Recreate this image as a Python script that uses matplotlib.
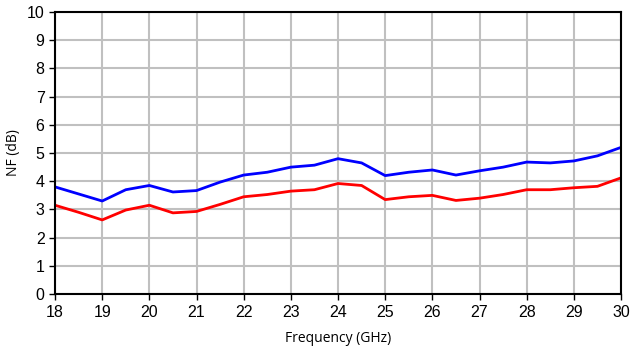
import matplotlib
matplotlib.use("Agg")
import matplotlib.pyplot as plt
import numpy as np

# Noise figure vs frequency, two traces
freq = np.arange(18, 30.01, 0.5)
nfBlue = [3.80, 3.55, 3.30, 3.70, 3.85, 3.62, 3.67, 3.97, 4.22, 4.32, 4.50, 4.57, 4.80,
          4.65, 4.20, 4.32, 4.40, 4.22, 4.37, 4.50, 4.68, 4.65, 4.72, 4.90, 5.20]
nfRed = [3.15, 2.90, 2.63, 2.98, 3.15, 2.88, 2.93, 3.18, 3.45, 3.53, 3.65, 3.70, 3.92,
         3.85, 3.35, 3.45, 3.50, 3.32, 3.40, 3.53, 3.70, 3.70, 3.77, 3.82, 4.12]

fig = plt.figure(figsize=(6.31, 3.51), dpi=100)
ax = fig.add_axes([0.0872, 0.162, 0.897, 0.804])

ax.plot(freq, nfBlue, color="#0000ff", lw=2)
ax.plot(freq, nfRed, color="#ff0000", lw=2)

ax.set_xlim(18, 30)
ax.set_ylim(0, 10)
ax.set_xticks(range(18, 31))
ax.set_yticks(range(0, 11))
ax.grid(True, color="#c0c0c0", lw=1.5)
ax.set_axisbelow(True)
for s in ax.spines.values():
    s.set_color("black")
    s.set_linewidth(1.5)
ax.tick_params(direction="out", length=4, width=1, colors="black", labelsize=11.5)
for lbl in ax.get_xticklabels() + ax.get_yticklabels():
    lbl.set_fontfamily("Liberation Sans")

ax.set_xlabel("Frequency (GHz)", fontsize=10, family="Open Sans", labelpad=8)
ax.set_ylabel("NF (dB)", fontsize=10, family="Open Sans", labelpad=4)

fig.savefig("out.png", dpi=100)
